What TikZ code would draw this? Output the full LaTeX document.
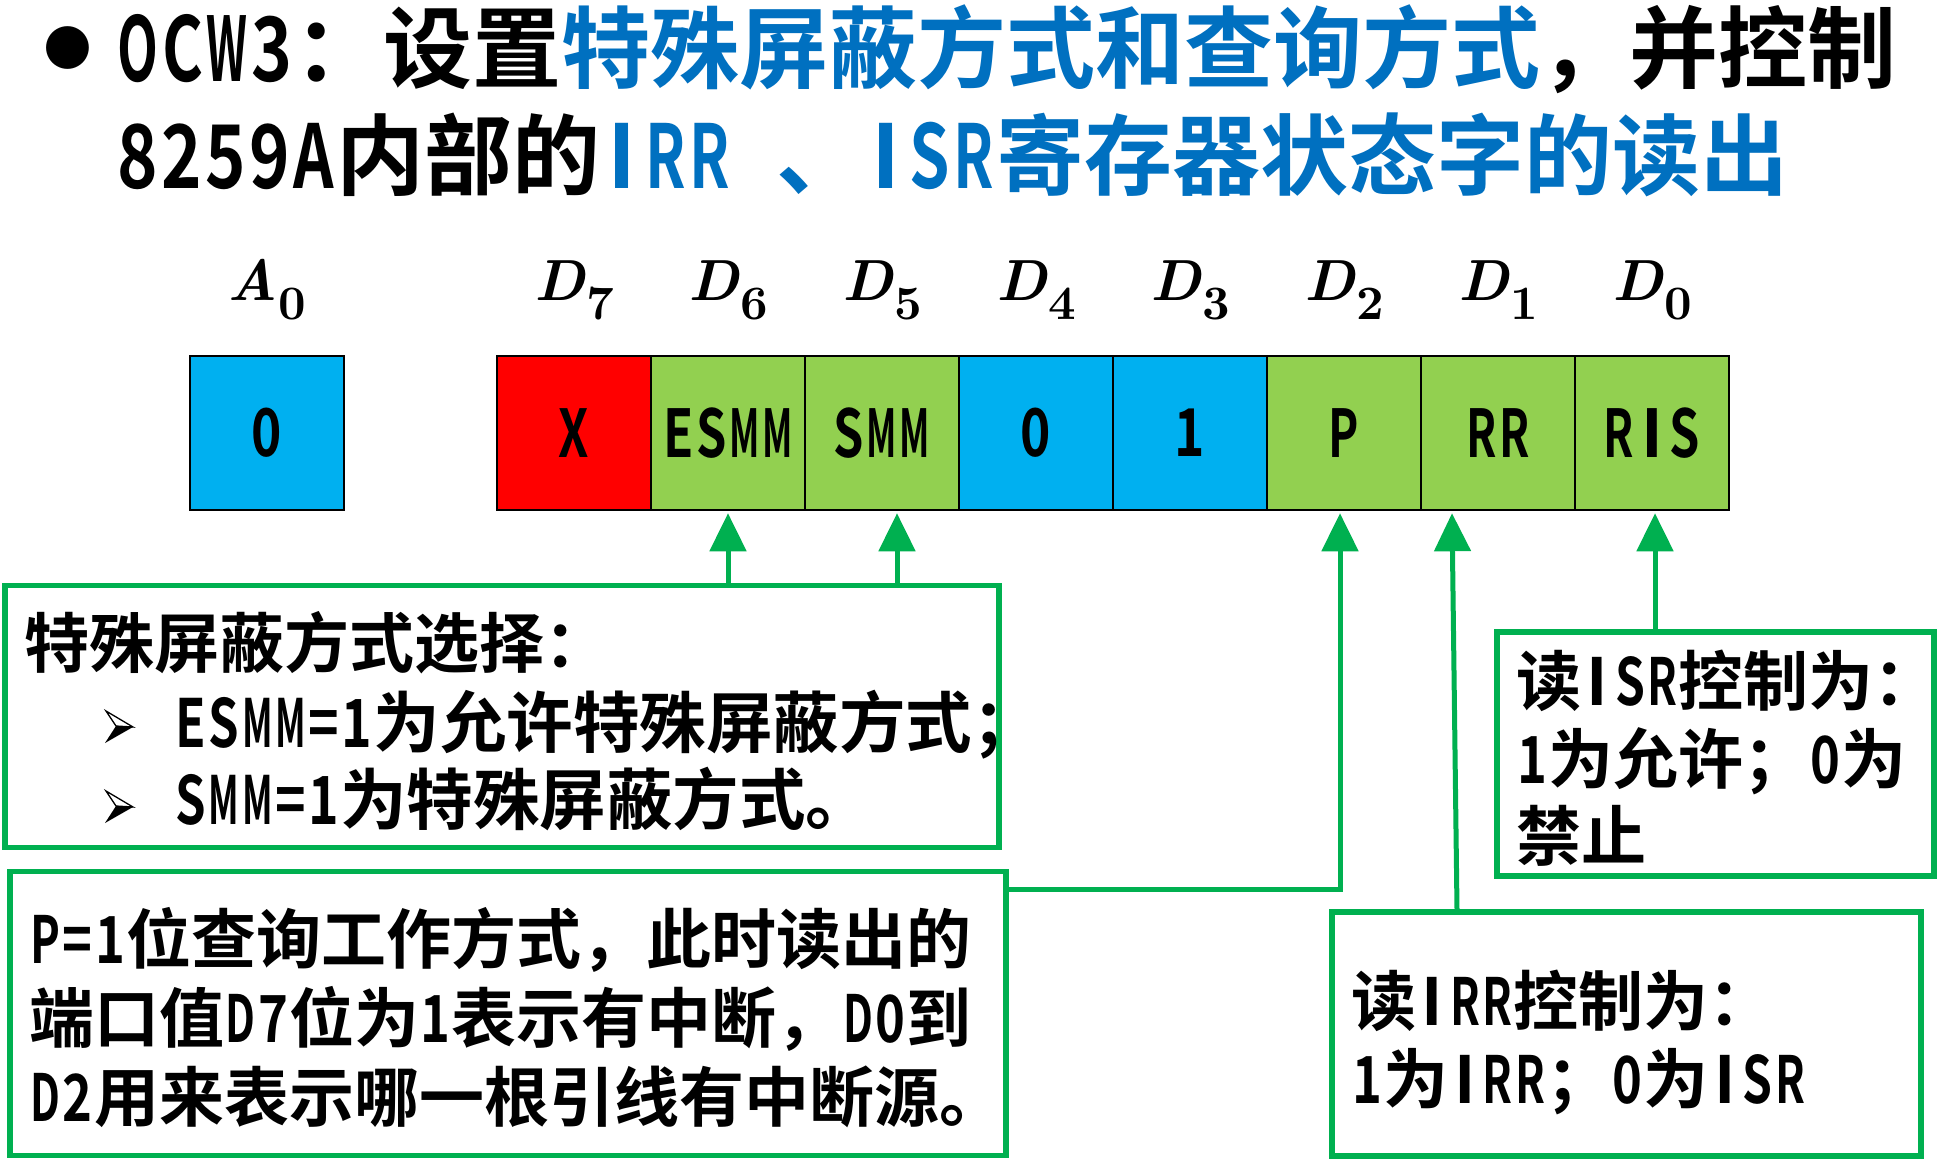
\documentclass[tikz,border=0pt]{standalone}
\usepackage[no-math]{fontspec}
\setmainfont{Noto Sans CJK SC Bold}
\newfontfamily\symfont{DejaVu Sans}
\newfontfamily\lmbi{lmroman10-bolditalic.otf}
\newfontfamily\lmb{lmroman10-bold.otf}
\usepackage{graphicx}
\usetikzlibrary{arrows.meta}
\definecolor{tblue}{HTML}{0070C0}
\definecolor{cgreen}{HTML}{92D050}
\definecolor{cblue}{HTML}{00B0F0}
\definecolor{lgreen}{HTML}{00B050}
% half-width latin characters (like SimHei)
\newcommand\hc[1]{\makebox[0.5em]{\sbox0{#1}\ifdim\wd0>0.46em\relax\resizebox{0.46em}{\height}{#1}\else\usebox0\fi}}
\def\hwend{\hwend}
\def\hw#1{\hwloop#1\hwend}
\def\hwloop#1{\ifx\hwend#1\else\hc{#1}\expandafter\hwloop\fi}
\newcommand\reglab[2]{{\lmbi #1}\kern0.02em\raisebox{-19bp}{\lmb\fontsize{48bp}{48bp}\selectfont #2}}
\begin{document}
\begin{tikzpicture}[x=1bp,y=-1bp,
  cell/.style={draw=black, line width=2.5bp, minimum width=154bp, minimum height=154bp, inner sep=0pt, font=\fontsize{66bp}{70bp}\selectfont},
  lab/.style={anchor=base, inner sep=0pt, font=\fontsize{58bp}{62bp}\selectfont},
  gbox/.style={draw=lgreen, line width=5.5bp, inner sep=0pt},
  txt/.style={anchor=base west, inner sep=0pt, font=\fontsize{65bp}{79bp}\selectfont},
  txtb/.style={anchor=base west, inner sep=0pt, font=\fontsize{66.5bp}{79bp}\selectfont},
  ttl/.style={anchor=base west, inner sep=0pt, font=\fontsize{88bp}{100bp}\selectfont},
  conn/.style={draw=lgreen, line width=5bp},
  arr/.style={conn, -{Triangle[length=38bp,width=36bp]}},
  pics/arrowhead/.style={code={
    \fill[black] (-3,-1) -- (14,0) -- (-14,16) -- cycle;
    \draw[black, line width=1.3bp, line join=miter] (-13,-16) -- (14,0) -- (-3,-1) -- cycle;
  }}]
\path[use as bounding box, fill=white] (0,0) rectangle (1945,1164);

% title
\node[inner sep=0pt, font=\symfont\fontsize{56bp}{56bp}\selectfont] (bul) at (68,48) {●};
\node[ttl, font=\fontsize{89bp}{100bp}\selectfont] (t1) at (116,81) {\hw{OCW3}：设置\textcolor{tblue}{特殊屏蔽方式和查询方式}，并控制};
\node[ttl] (t2) at (116,188) {\hw{8259A}内部的\textcolor{tblue}{\hw{IRR}\hspace{0.5em}、\hw{ISR}寄存器状态字的读出}};

% register
\node[cell, fill=cblue] (a0) at (267,433) {\hw{0}};
\node[cell, fill=red] (d7) at (574,433) {\hw{X}};
\node[cell, fill=cgreen] (d6) at (728,433) {\hw{ESMM}};
\node[cell, fill=cgreen] (d5) at (882,433) {\hw{SMM}};
\node[cell, fill=cblue] (d4) at (1036,433) {\hw{0}};
\node[cell, fill=cblue] (d3) at (1190,433) {\hw{1}};
\node[cell, fill=cgreen] (d2) at (1344,433) {\hw{P}};
\node[cell, fill=cgreen] (d1) at (1498,433) {\hw{RR}};
\node[cell, fill=cgreen] (d0) at (1652,433) {\hw{RIS}};

\node[lab] (la0) at (267,300) {\reglab{A}{0}};
\node[lab] (ld7) at (574,300) {\reglab{D}{7}};
\node[lab] (ld6) at (728,300) {\reglab{D}{6}};
\node[lab] (ld5) at (882,300) {\reglab{D}{5}};
\node[lab] (ld4) at (1036,300) {\reglab{D}{4}};
\node[lab] (ld3) at (1190,300) {\reglab{D}{3}};
\node[lab] (ld2) at (1344,300) {\reglab{D}{2}};
\node[lab] (ld1) at (1498,300) {\reglab{D}{1}};
\node[lab] (ld0) at (1652,300) {\reglab{D}{0}};

% boxes
\node[gbox, minimum width=994bp, minimum height=262bp] (box1) at (502,716.5) {};
\node[gbox, minimum width=996bp, minimum height=284bp] (box2) at (508,1013.5) {};
\node[gbox, minimum width=437bp, minimum height=244bp] (box3) at (1715.5,754) {};
\node[gbox, minimum width=589bp, minimum height=244bp] (box4) at (1626.5,1034) {};

% connectors
\coordinate (esmmtip) at ([yshift=-2bp]d6.south);
\coordinate (smmtip) at ([xshift=15bp,yshift=-2bp]d5.south);
\coordinate (ptip) at ([xshift=-4bp,yshift=-2bp]d2.south);
\coordinate (rrtip) at ([xshift=-46bp,yshift=-2bp]d1.south);
\coordinate (ristip) at ([xshift=3bp,yshift=-2bp]d0.south);
\draw[arr] (box1.north -| esmmtip) -- (esmmtip);
\draw[arr] (box1.north -| smmtip) -- (smmtip);
\draw[arr] ([yshift=124.5bp]box2.east) -| (ptip);
\draw[arr] ([xshift=-169.5bp]box4.north) -- (rrtip);
\draw[arr] (box3.north -| ristip) -- (ristip);

% box texts
\node[txt] (b1l1) at (24,667) {特殊屏蔽方式选择：};
\pic at (119,727) {arrowhead};
\node[txtb] (b1l2) at (174,747) {\hw{ESMM=1}为允许特殊屏蔽方式；};
\pic at (119,807) {arrowhead};
\node[txtb] (b1l3) at (174,824) {\hw{SMM=1}为特殊屏蔽方式。};

\node[txt] (b2l1) at (29,963) {\hw{P=1}位查询工作方式，此时读出的};
\node[txt] (b2l2) at (29,1042) {端口值\hw{D7}位为\hw{1}表示有中断，\hw{D0}到};
\node[txt] (b2l3) at (29,1121) {\hw{D2}用来表示哪一根引线有中断源。};

\node[txt] (b3l1) at (1516,705) {读\hw{ISR}控制为：};
\node[txt] (b3l2) at (1516,783) {\hw{1}为允许；\hw{0}为};
\node[txt] (b3l3) at (1516,860) {禁止};

\node[txt] (b4l1) at (1351,1025) {读\hw{IRR}控制为：};
\node[txt] (b4l2) at (1351,1103) {\hw{1}为\hw{IRR}；\hw{0}为\hw{ISR}};
\end{tikzpicture}
\end{document}
